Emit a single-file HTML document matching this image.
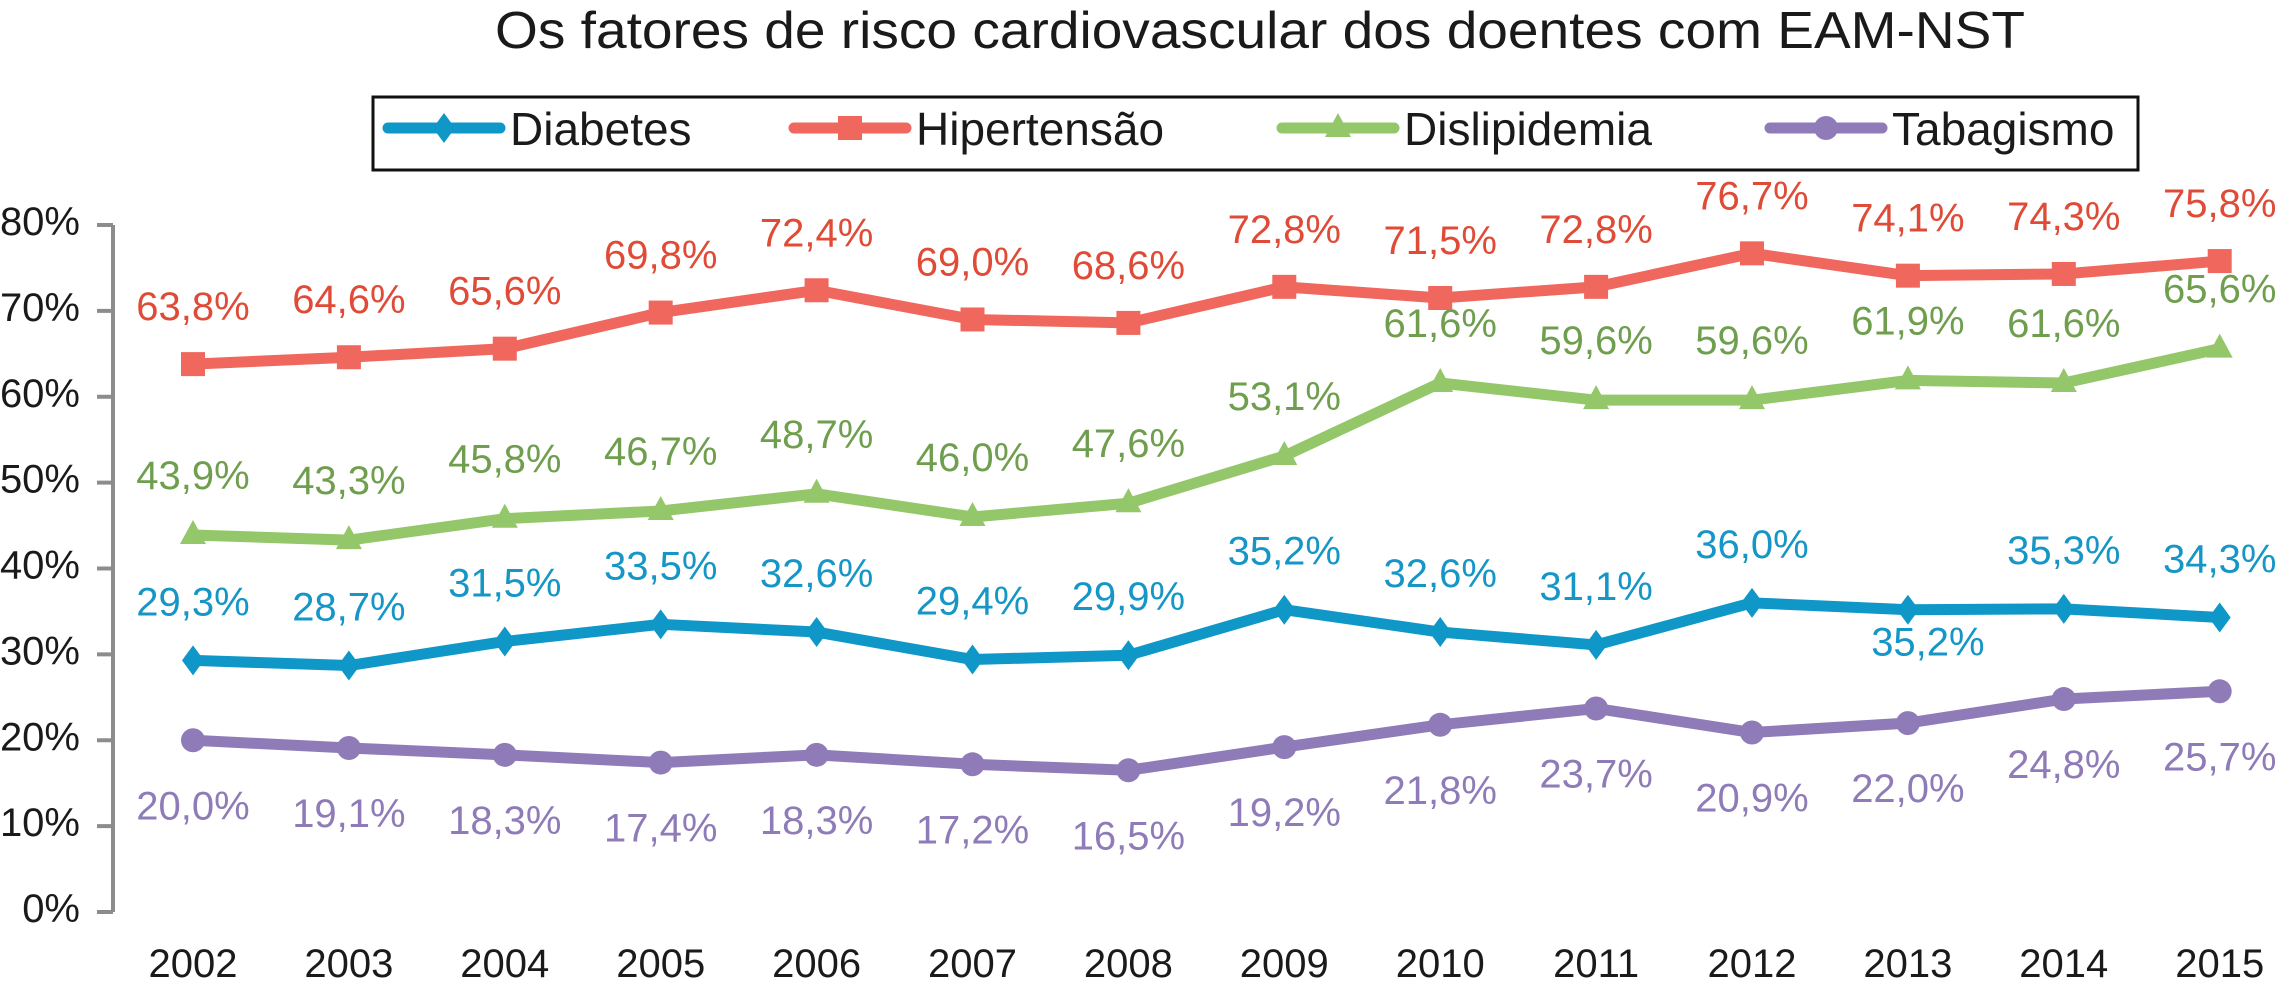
<!DOCTYPE html>
<html><head><meta charset="utf-8"><style>
html,body{margin:0;padding:0;background:#fff;}
svg{display:block;font-family:"Liberation Sans",Arial,sans-serif;}
</style></head><body>
<svg id="chart" width="2284" height="985" viewBox="0 0 2284 985" xmlns="http://www.w3.org/2000/svg">
<text x="1260" y="48" font-size="52" text-anchor="middle" fill="#1a1a1a" textLength="1530" lengthAdjust="spacingAndGlyphs">Os fatores de risco cardiovascular dos doentes com EAM-NST</text>
<g id="legend">
<rect x="373" y="97" width="1765" height="73" fill="#fff" stroke="#111" stroke-width="3"/>
</g>
<g id="axes"></g>
<g id="series"></g>
</svg>
<script>
const years = ["2002","2003","2004","2005","2006","2007","2008","2009","2010","2011","2012","2013","2014","2015"];
const diabetes = [29.3,28.7,31.5,33.5,32.6,29.4,29.9,35.2,32.6,31.1,36.0,35.2,35.3,34.3];
const hipertensao = [63.8,64.6,65.6,69.8,72.4,69.0,68.6,72.8,71.5,72.8,76.7,74.1,74.3,75.8];
const dislipidemia = [43.9,43.3,45.8,46.7,48.7,46.0,47.6,53.1,61.6,59.6,59.6,61.9,61.6,65.6];
const tabagismo = [20.0,19.1,18.3,17.4,18.3,17.2,16.5,19.2,21.8,23.7,20.9,22.0,24.8,25.7];
const yTicks = [0,10,20,30,40,50,60,70,80];

const NS = "http://www.w3.org/2000/svg";
const x = i => 193 + i * 155.9;
const y = v => 912 - v * (687 / 80);
function mk(tag, attrs, parent){ const e=document.createElementNS(NS,tag); for(const k in attrs) e.setAttribute(k,attrs[k]); parent.appendChild(e); return e; }
const axes = document.getElementById('axes');
const ser = document.getElementById('series');
const legend = document.getElementById('legend');

let ax = mk('line',{x1:113,y1:y(80),x2:113,y2:y(0),stroke:'#8c8c8c','stroke-width':4},axes);


yTicks.forEach(t=>{
  let tk = mk('line',{x1:97,y1:y(t),x2:113,y2:y(t),stroke:'#8c8c8c','stroke-width':4},axes);
  
  
  let tl = mk('text',{x:80,y:y(t)+10,'font-size':40,'text-anchor':'end',fill:'#1a1a1a'},axes);
  tl.textContent = t + '%';
  
  
});
years.forEach((yr,i)=>{
  let t = mk('text',{x:x(i),y:977,'font-size':40,'text-anchor':'middle',fill:'#1a1a1a'},axes);
  t.textContent = yr;
  
  
});

function marker(shape, cx, cy, color, g){
  let m;
  if(shape==='diamond') m = mk('polygon',{points:`${cx},${cy-15} ${cx+11},${cy} ${cx},${cy+15} ${cx-11},${cy}`,fill:color},g);
  else if(shape==='square') m = mk('rect',{x:cx-12,y:cy-12,width:24,height:24,fill:color},g);
  else if(shape==='triangle') m = mk('polygon',{points:`${cx},${cy-15} ${cx+13},${cy+9} ${cx-13},${cy+9}`,fill:color},g);
  else m = mk('circle',{cx:cx,cy:cy,r:12,fill:color},g);
  return m;
}
const fmt = v => v.toFixed(1).replace('.',',') + '%';

const seriesDefs = [
  {name:'tabagismo',label:'Tabagismo',data:tabagismo,color:'#8e7bb8',text:'#8e7bb8',shape:'circle',off:65,lx:1770},
  {name:'diabetes',label:'Diabetes',data:diabetes,color:'#0f97c8',text:'#1596c6',shape:'diamond',off:-59,lx:388},
  {name:'dislipidemia',label:'Dislipidemia',data:dislipidemia,color:'#93c76a',text:'#6f9e4e',shape:'triangle',off:-60,lx:1282},
  {name:'hipertensao',label:'Hipertensão',data:hipertensao,color:'#ef675d',text:'#df4b36',shape:'square',off:-58,lx:794}
];
seriesDefs.forEach(s=>{
  const g = mk('g',{},ser);
  
  
  const pts = s.data.map((v,i)=>x(i)+','+y(v)).join(' ');
  const pl = mk('polyline',{points:pts,fill:'none',stroke:s.color,'stroke-width':11,'stroke-linejoin':'round','stroke-linecap':'round'},g);
  
  
  s.data.forEach((v,i)=>{
    const m = marker(s.shape,x(i),y(v),s.color,g);
    
    
    let off = s.off, dx = 0;
    if(s.name==='diabetes' && i===11){ off = 32; dx = 20; }
    const t = mk('text',{x:x(i)+dx,y:y(v)+off+14,'font-size':40,'text-anchor':'middle',fill:s.text},g);
    t.textContent = fmt(v);
    
    
  });
  // legend entry
  const lg = mk('g',{},legend);
  
  
  const ll = mk('line',{x1:s.lx,y1:128,x2:s.lx+112,y2:128,stroke:s.color,'stroke-width':11,'stroke-linecap':'round'},lg);
  
  
  const lm = marker(s.shape,s.lx+56,128,s.color,lg);
  
  
  const lt = mk('text',{x:s.lx+122,y:145,'font-size':46,fill:'#1a1a1a'},lg);
  lt.textContent = s.label;
  
  
});
</script>
</body></html>
